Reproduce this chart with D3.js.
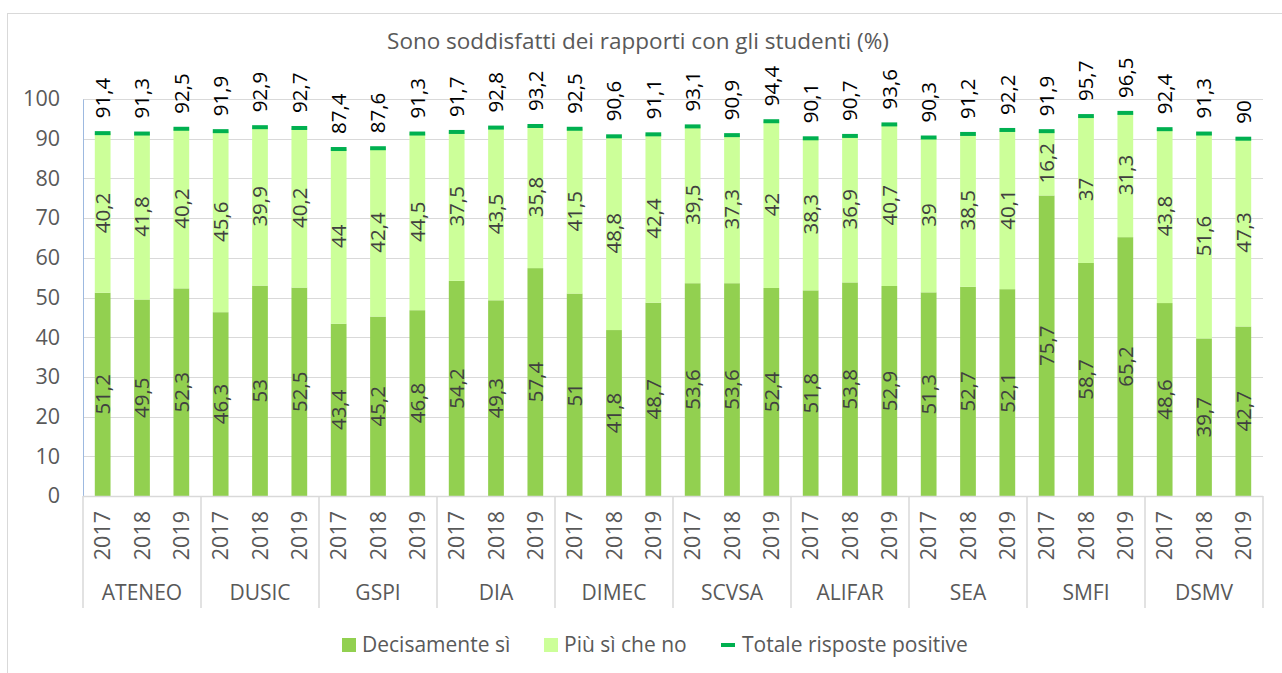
<!DOCTYPE html>
<html>
<head>
<meta charset="utf-8">
<script src="https://cdn.jsdelivr.net/npm/d3@7"></script>
<style>
    body { margin: 0; background: #fff; }
    svg { display: block; font-family: "Open Sans", sans-serif; }
</style>
</head>
<body>
<svg id="chart"></svg>
<script>
const width = 1282;
const height = 673;

const groups = ["ATENEO", "DUSIC", "GSPI", "DIA", "DIMEC", "SCVSA", "ALIFAR", "SEA", "SMFI", "DSMV"];
const years = ["2017", "2018", "2019"];
const decisamente = [
    51.2, 49.5, 52.3, 46.3, 53, 52.5, 43.4, 45.2, 46.8, 54.2, 49.3, 57.4, 51, 41.8, 48.7,
    53.6, 53.6, 52.4, 51.8, 53.8, 52.9, 51.3, 52.7, 52.1, 75.7, 58.7, 65.2, 48.6, 39.7, 42.7
];
const piuSi = [
    40.2, 41.8, 40.2, 45.6, 39.9, 40.2, 44, 42.4, 44.5, 37.5, 43.5, 35.8, 41.5, 48.8, 42.4,
    39.5, 37.3, 42, 38.3, 36.9, 40.7, 39, 38.5, 40.1, 16.2, 37, 31.3, 43.8, 51.6, 47.3
];
const totale = [
    91.4, 91.3, 92.5, 91.9, 92.9, 92.7, 87.4, 87.6, 91.3, 91.7, 92.8, 93.2, 92.5, 90.6, 91.1,
    93.1, 90.9, 94.4, 90.1, 90.7, 93.6, 90.3, 91.2, 92.2, 91.9, 95.7, 96.5, 92.4, 91.3, 90
];
const yTicks = [0, 10, 20, 30, 40, 50, 60, 70, 80, 90, 100];

const colDark = "#92D050", colLight = "#CCFF99", colTot = "#00B050";
const textGrey = "#595959";
const fmt = v => String(v).replace(".", ",");

const margin = {left: 83, right: 19, top: 99, bottom: 177};

let rows = [];
groups.forEach((g, gi) => {
    years.forEach((yr, yi) => {
        let i = gi * 3 + yi;
        rows.push({key: g + "-" + yr, group: g, year: yr, a: decisamente[i], b: piuSi[i], tot: totale[i]});
    });
});

let svg = d3.select("#chart")
    .attr("width", width)
    .attr("height", height);

svg.append("rect")
    .attr("x", 7.5).attr("y", 13.5)
    .attr("width", width + 10).attr("height", height + 10)
    .attr("fill", "#fff")
    .attr("stroke", "#D9D9D9");

let x = d3.scaleBand()
    .domain(rows.map(d => d.key))
    .range([margin.left, width - margin.right])
    .paddingInner(0.6)
    .paddingOuter(0.3);
let xg = d3.scaleBand()
    .domain(groups)
    .range([margin.left, width - margin.right]);
let y = d3.scaleLinear()
    .domain([0, 100])
    .range([height - margin.bottom, margin.top]);

svg.append("text")
    .attr("x", 638).attr("y", 49)
    .attr("text-anchor", "middle")
    .attr("font-size", 22.5)
    .attr("fill", textGrey)
    .text("Sono soddisfatti dei rapporti con gli studenti (%)");

// grid
svg.append("g")
    .selectAll("line")
    .data(yTicks.slice(1))
    .join("line")
    .attr("x1", margin.left).attr("x2", width - margin.right)
    .attr("y1", d => Math.round(y(d)) + 0.5).attr("y2", d => Math.round(y(d)) + 0.5)
    .attr("stroke", "#D9D9D9")
    .attr("stroke-width", 1.2);

// y axis
let yAxis = svg.append("g")
    .attr("transform", "translate(" + margin.left + ",0)")
    .call(d3.axisLeft(y).tickValues(yTicks).tickSize(0).tickPadding(23).tickFormat(d => d));
yAxis.select(".domain")
    .attr("stroke", "#9DB9E0");
yAxis.selectAll("text")
    .attr("font-family", "Open Sans, sans-serif")
    .attr("font-size", 21.5)
    .attr("fill", textGrey);

// bars
let bars = svg.append("g")
    .selectAll("g")
    .data(rows)
    .join("g");
bars.append("rect")
    .attr("x", d => x(d.key))
    .attr("width", x.bandwidth())
    .attr("y", d => y(d.a))
    .attr("height", d => y(0) - y(d.a))
    .attr("fill", colDark);
bars.append("rect")
    .attr("x", d => x(d.key))
    .attr("width", x.bandwidth())
    .attr("y", d => y(d.a + d.b))
    .attr("height", d => y(d.a) - y(d.a + d.b))
    .attr("fill", colLight);
bars.append("rect")
    .attr("x", d => x(d.key))
    .attr("width", x.bandwidth())
    .attr("y", d => y(d.tot) - 2)
    .attr("height", 4)
    .attr("fill", colTot);

// labels in bars
bars.append("text")
    .attr("transform", d => "translate(" + (x(d.key) + x.bandwidth() / 2) + "," + y(d.a / 2) + ") rotate(-90)")
    .attr("text-anchor", "middle")
    .attr("dy", "0.35em")
    .attr("font-size", 20.5)
    .attr("fill", "#404040")
    .text(d => fmt(d.a));
bars.append("text")
    .attr("transform", d => "translate(" + (x(d.key) + x.bandwidth() / 2) + "," + y(d.a + d.b / 2) + ") rotate(-90)")
    .attr("text-anchor", "middle")
    .attr("dy", "0.35em")
    .attr("font-size", 20.5)
    .attr("fill", "#404040")
    .text(d => fmt(d.b));
bars.append("text")
    .attr("transform", d => "translate(" + (x(d.key) + x.bandwidth() / 2) + "," + (y(d.tot) - 15) + ") rotate(-90)")
    .attr("text-anchor", "start")
    .attr("dy", "0.35em")
    .attr("font-size", 20.5)
    .attr("fill", "#000")
    .text(d => fmt(d.tot));

// x axis
let xAxis = svg.append("g");
xAxis.append("line")
    .attr("x1", margin.left).attr("x2", width - margin.right)
    .attr("y1", y(0) + 0.5).attr("y2", y(0) + 0.5)
    .attr("stroke", "#D9D9D9")
    .attr("stroke-width", 1.5);
xAxis.selectAll(".sep")
    .data(groups.map(g => xg(g)).concat([width - margin.right]))
    .join("line")
    .classed("sep", true)
    .attr("x1", d => d).attr("x2", d => d)
    .attr("y1", y(0)).attr("y2", 608)
    .attr("stroke", "#D9D9D9")
    .attr("stroke-width", 1.5);
xAxis.selectAll(".yr")
    .data(rows)
    .join("text")
    .classed("yr", true)
    .attr("transform", d => "translate(" + (x(d.key) + x.bandwidth() / 2) + "," + (y(0) + 15) + ") rotate(-90)")
    .attr("text-anchor", "end")
    .attr("dy", "0.35em")
    .attr("font-size", 21.5)
    .attr("fill", textGrey)
    .text(d => d.year);
xAxis.selectAll(".grp")
    .data(groups)
    .join("text")
    .classed("grp", true)
    .attr("x", d => xg(d) + xg.bandwidth() / 2)
    .attr("y", 593)
    .attr("dy", "0.35em")
    .attr("text-anchor", "middle")
    .attr("font-size", 21)
    .attr("fill", textGrey)
    .text(d => d);

// legend
let legendItems = [
    {name: "Decisamente sì", color: colDark, type: "box", x: 342},
    {name: "Più sì che no", color: colLight, type: "box", x: 544},
    {name: "Totale risposte positive", color: colTot, type: "line", x: 721}
];
let legend = svg.append("g")
    .selectAll("g")
    .data(legendItems)
    .join("g")
    .attr("transform", d => "translate(" + d.x + ",645)");
legend.append("rect")
    .attr("x", 0)
    .attr("y", d => d.type === "box" ? -7 : -2)
    .attr("width", 14)
    .attr("height", d => d.type === "box" ? 14 : 4)
    .attr("fill", d => d.color);
legend.append("text")
    .attr("x", d => d.type === "box" ? 20 : 21)
    .attr("dy", "0.35em")
    .attr("font-size", 21)
    .attr("fill", textGrey)
    .text(d => d.name);
</script>
</body>
</html>
